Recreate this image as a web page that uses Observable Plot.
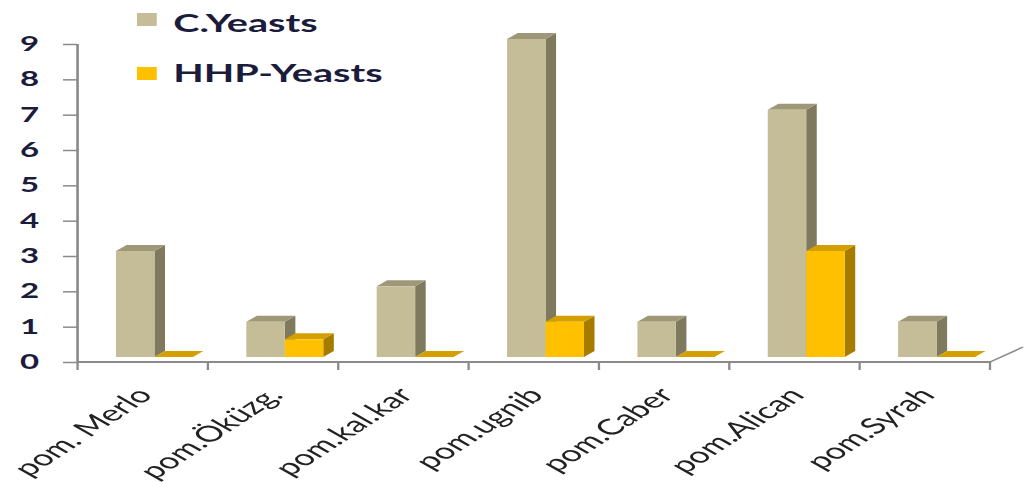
<!DOCTYPE html>
<html><head><meta charset="utf-8">
<script src="https://cdn.jsdelivr.net/npm/d3@7"></script>
<script src="https://cdn.jsdelivr.net/npm/@observablehq/plot@0.6"></script>
<style>
html,body{margin:0;padding:0;background:#fff;overflow:hidden;width:1035px;height:482px}
#stage{position:absolute;left:0;top:0;width:627px;height:482px;transform:scaleX(1.65);transform-origin:0 0;}
.leg{position:absolute;font-family:Lato,sans-serif;font-weight:bold;font-size:24px;line-height:24px;color:#1b1b3c;white-space:nowrap}
.sw{position:absolute;width:12px;height:13px}
</style></head><body><div id="stage"></div>
<script>
const categories = ["pom. Merlo","pom.Öküzg.","pom.kal.kar","pom.ugnib","pom.Caber","pom.Alican","pom.Syrah"];
const cYeasts = [3, 1, 2, 9, 1, 7, 1];
const hhpYeasts = [0, 0.5, 0, 1, 0, 3, 0];
const seriesNames = ["C.Yeasts", "HHP-Yeasts"];
const seriesFront = ["#c4bd97", "#ffc000"];
const seriesTop = ["#9e9878", "#d49f00"];
const seriesSide = ["#7f7a5e", "#a67c00"];
const yTicks = [0, 1, 2, 3, 4, 5, 6, 7, 8, 9];

const rows = categories.flatMap((c, i) => [
  {cat: c, s: 0, value: cYeasts[i]},
  {cat: c, s: 1, value: hhpYeasts[i]}
]);

const axisColor = "#8a8a8a";

function bars3d(index, scales) {
  const x = scales.x, y = scales.y;
  const bw = x.bandwidth();
  const ddx = 6.4, ddy = -6, lift = -5;
  const g = d3.create("svg:g");
  for (const r of rows) {
    const x0 = x(r.cat) + bw * (0.295 + 0.295 * r.s), x1 = x0 + bw * 0.295;
    const yb = y(0) + lift, yt = y(r.value) + lift;
    g.append("polygon")
      .attr("points", [[x1, yt], [x1 + ddx, yt + ddy], [x1 + ddx, yb + ddy], [x1, yb]].join(" "))
      .attr("fill", seriesSide[r.s]);
    g.append("polygon")
      .attr("points", [[x0, yt], [x1, yt], [x1 + ddx, yt + ddy], [x0 + ddx, yt + ddy]].join(" "))
      .attr("fill", seriesTop[r.s]);
    if (yb - yt > 0) {
      g.append("rect").attr("x", x0).attr("y", yt).attr("width", x1 - x0).attr("height", yb - yt)
        .attr("fill", seriesFront[r.s]);
    }
  }
  return g.node();
}

function floor(index, scales) {
  const x = scales.x, y = scales.y;
  const bw = x.bandwidth();
  const g = d3.create("svg:g").attr("stroke", axisColor).attr("fill", "none");
  const xs = categories.map(c => x(c)).concat([x(categories[categories.length - 1]) + bw]);
  const y0 = y(0);
  g.append("line").attr("x1", xs[0]).attr("x2", xs[xs.length - 1]).attr("y1", y0).attr("y2", y0).attr("stroke-width", 2);
  g.append("line").attr("x1", xs[0]).attr("x2", xs[0]).attr("y1", y(yTicks[yTicks.length - 1])).attr("y2", y0).attr("stroke-width", 1.6);
  for (const xv of xs) {
    g.append("line").attr("x1", xv).attr("x2", xv).attr("y1", y0).attr("y2", y0 + 8).attr("stroke-width", 1.4);
  }
  const xe = xs[xs.length - 1];
  g.append("line").attr("x1", xe).attr("x2", xe + 20).attr("y1", y0).attr("y2", y0 - 15).attr("stroke-width", 1.4);
  return g.node();
}

const plot = Plot.plot({
  width: 627,
  height: 482,
  marginLeft: 46.7,
  marginRight: 26.4,
  marginTop: 44,
  marginBottom: 120,
  x: {type: "band", domain: categories, padding: 0, axis: null},
  y: {domain: [0, 9], axis: null},
  style: {background: "#fff", overflow: "visible"},
  marks: [
    Plot.axisY({ticks: yTicks, tickSize: 8.5, tickPadding: 15, fontSize: 20, fontWeight: "bold",
      fontFamily: "Lato", color: "#1b1b3c", stroke: axisColor, strokeWidth: 1.5, label: null, tickFormat: d => String(d)}),
    floor,
    bars3d,
    Plot.text(categories, {x: d => d, frameAnchor: "bottom", dy: 23, dx: -5, rotate: -47,
      textAnchor: "end", lineAnchor: "top", fontSize: 22, fontFamily: "Lato", fill: "#222"})
  ]
});

const stage = document.getElementById("stage");
stage.appendChild(plot);

const legend = [
  {name: seriesNames[0], color: seriesFront[0], top: 13, textTop: 10.7},
  {name: seriesNames[1], color: seriesFront[1], top: 67, textTop: 60.7}
];
for (const L of legend) {
  const sw = document.createElement("div");
  sw.className = "sw"; sw.style.left = "83px"; sw.style.top = L.top + "px"; sw.style.background = L.color;
  stage.appendChild(sw);
  const t = document.createElement("div");
  t.className = "leg"; t.style.left = "105px"; t.style.top = L.textTop + "px"; t.textContent = L.name;
  stage.appendChild(t);
}
</script>
</body></html>
